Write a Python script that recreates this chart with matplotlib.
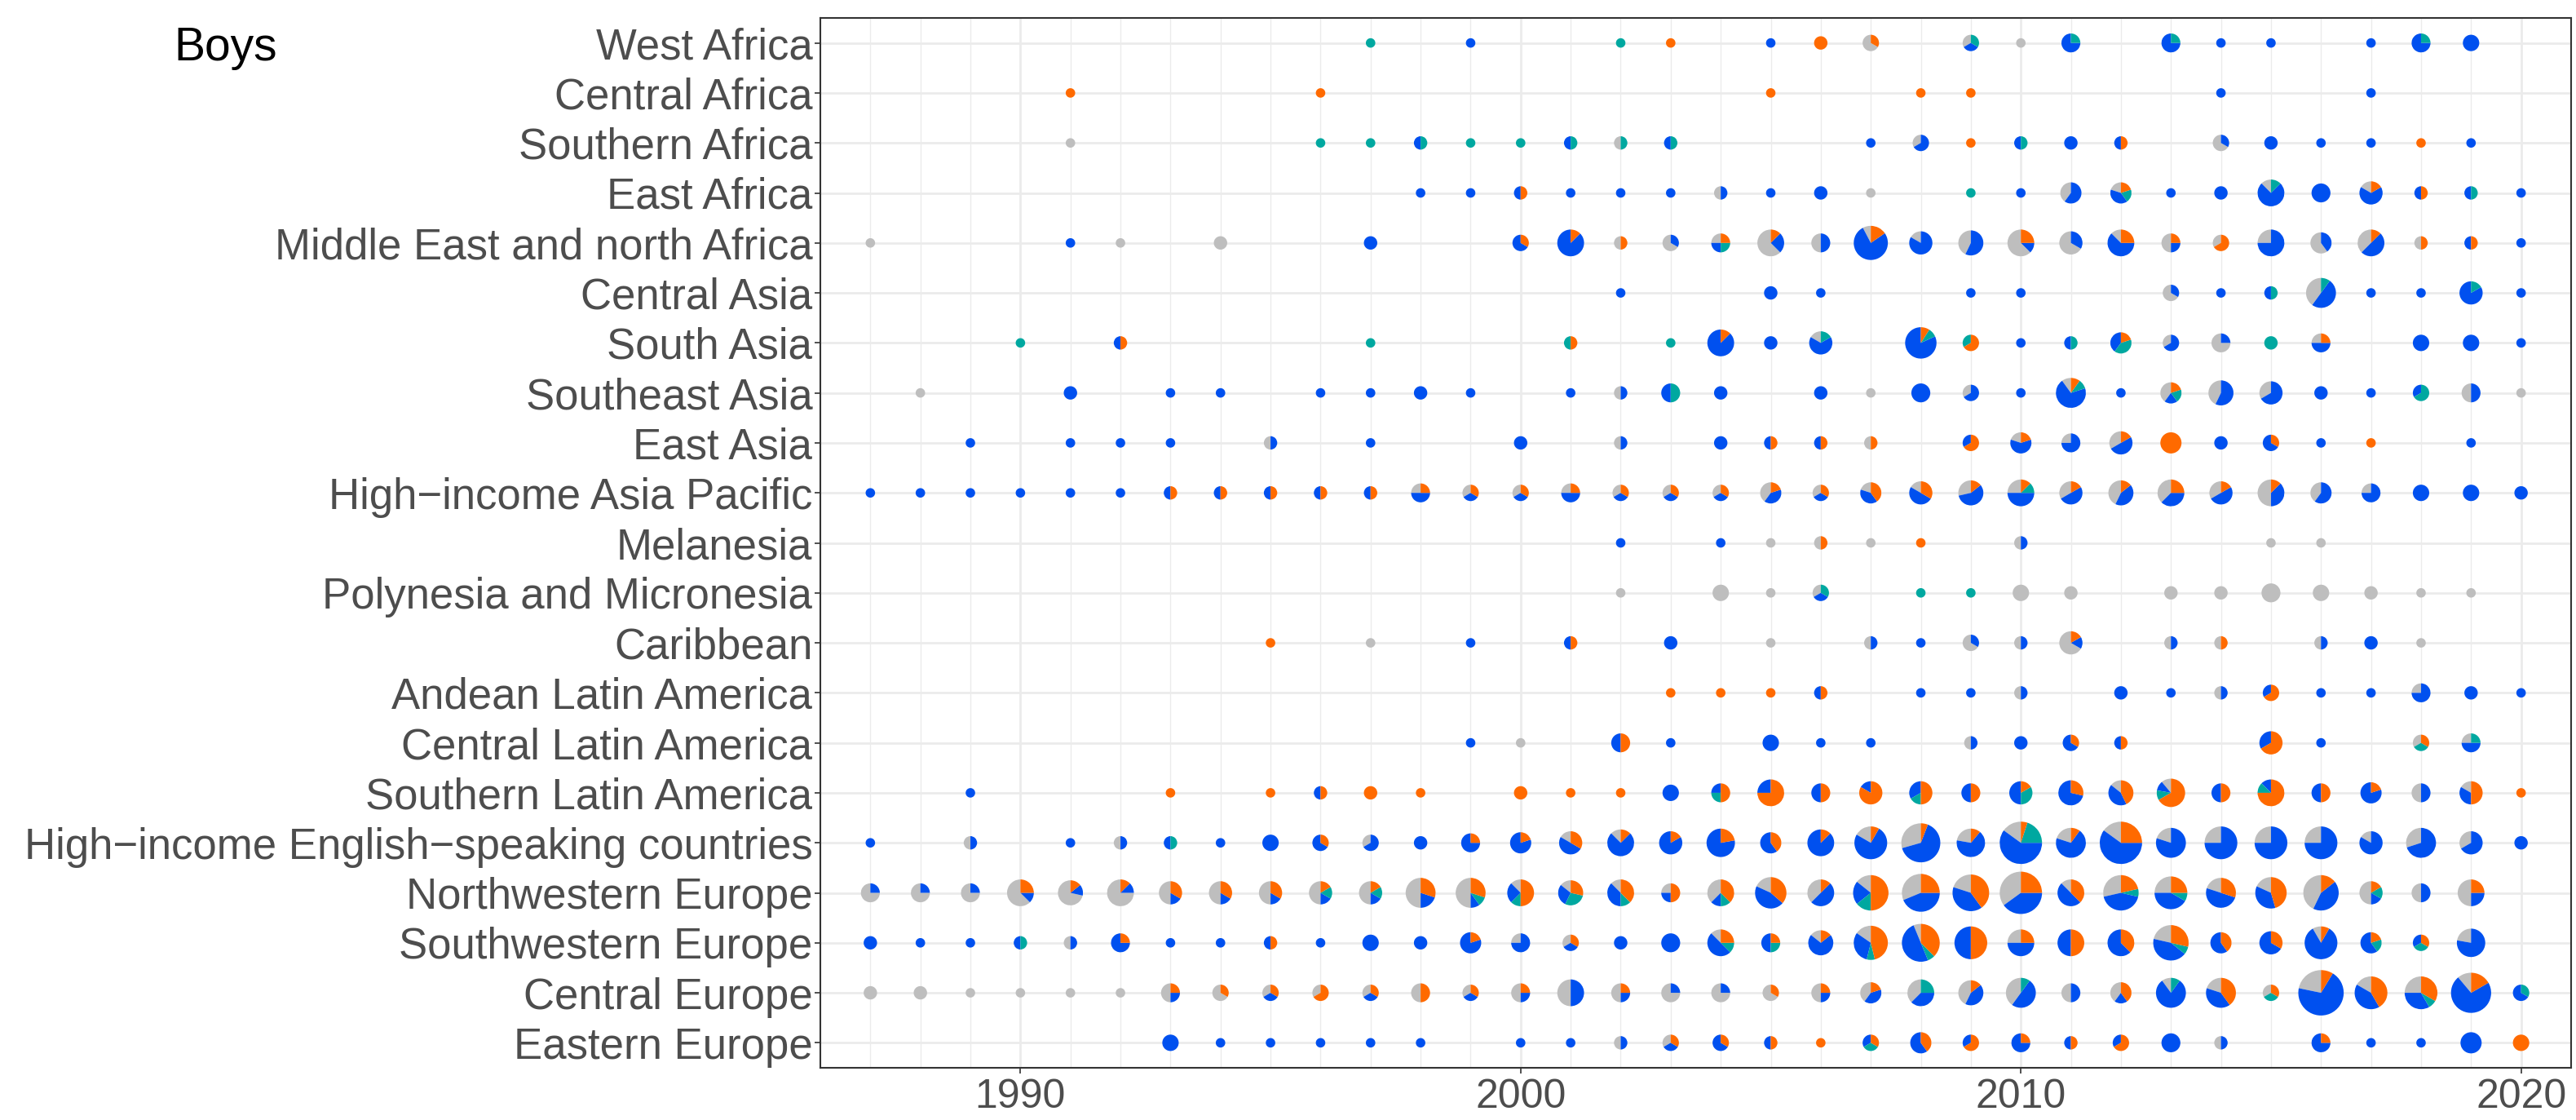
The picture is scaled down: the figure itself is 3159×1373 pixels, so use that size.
import numpy as np
import matplotlib.pyplot as plt
from matplotlib.patches import Wedge
from matplotlib.transforms import ScaledTranslation

plt.rcParams['font.family'] = ['Liberation Sans', 'DejaVu Sans']

# region names, top to bottom
regions = [
    "West Africa", "Central Africa", "Southern Africa", "East Africa",
    "Middle East and north Africa", "Central Asia", "South Asia",
    "Southeast Asia", "East Asia", "High\u2212income Asia Pacific", "Melanesia",
    "Polynesia and Micronesia", "Caribbean", "Andean Latin America",
    "Central Latin America", "Southern Latin America",
    "High\u2212income English\u2212speaking countries", "Northwestern Europe",
    "Southwestern Europe", "Central Europe", "Eastern Europe",
]

# each record: (year, blue, orange, teal, gray) counts
west_africa = [(1997, 0, 0, 1, 0), (1999, 1, 0, 0, 0), (2002, 0, 0, 1, 0), (2003, 0, 1, 0, 0),
               (2005, 1, 0, 0, 0), (2006, 0, 2, 0, 0), (2007, 0, 1, 0, 2), (2009, 1, 0, 1, 1),
               (2010, 0, 0, 0, 1), (2011, 3, 0, 1, 0), (2013, 3, 0, 1, 0), (2014, 1, 0, 0, 0),
               (2015, 1, 0, 0, 0), (2017, 1, 0, 0, 0), (2018, 3, 0, 1, 0), (2019, 3, 0, 0, 0)]
central_africa = [(1991, 0, 1, 0, 0), (1996, 0, 1, 0, 0), (2005, 0, 1, 0, 0), (2008, 0, 1, 0, 0),
                  (2009, 0, 1, 0, 0), (2014, 1, 0, 0, 0), (2017, 1, 0, 0, 0)]
southern_africa = [(1991, 0, 0, 0, 1), (1996, 0, 0, 1, 0), (1997, 0, 0, 1, 0), (1998, 1, 0, 1, 0),
                   (1999, 0, 0, 1, 0), (2000, 0, 0, 1, 0), (2001, 1, 0, 1, 0), (2002, 0, 0, 1, 1),
                   (2003, 1, 0, 1, 0), (2007, 1, 0, 0, 0), (2008, 2, 0, 0, 1), (2009, 0, 1, 0, 0),
                   (2010, 1, 0, 1, 0), (2011, 2, 0, 0, 0), (2012, 1, 1, 0, 0), (2014, 1, 0, 0, 2),
                   (2015, 2, 0, 0, 0), (2016, 1, 0, 0, 0), (2017, 1, 0, 0, 0), (2018, 0, 1, 0, 0),
                   (2019, 1, 0, 0, 0)]
east_africa = [(1998, 1, 0, 0, 0), (1999, 1, 0, 0, 0), (2000, 1, 1, 0, 0), (2001, 1, 0, 0, 0),
               (2002, 1, 0, 0, 0), (2003, 1, 0, 0, 0), (2004, 1, 0, 0, 1), (2005, 1, 0, 0, 0),
               (2006, 2, 0, 0, 0), (2007, 0, 0, 0, 1), (2009, 0, 0, 1, 0), (2010, 1, 0, 0, 0),
               (2011, 3, 0, 0, 2), (2012, 2, 1, 1, 1), (2013, 1, 0, 0, 0), (2014, 2, 0, 0, 0),
               (2015, 6, 0, 1, 1), (2016, 4, 0, 0, 0), (2017, 4, 1, 0, 1), (2018, 1, 1, 0, 0),
               (2019, 1, 0, 1, 0), (2020, 1, 0, 0, 0)]
mena = [(1987, 0, 0, 0, 1), (1991, 1, 0, 0, 0), (1992, 0, 0, 0, 1), (1994, 0, 0, 0, 2),
        (1997, 2, 0, 0, 0), (2000, 2, 1, 0, 0), (2001, 7, 1, 0, 0), (2002, 0, 1, 0, 1),
        (2003, 1, 0, 0, 2), (2004, 1, 1, 1, 1), (2005, 2, 1, 0, 5), (2006, 2, 0, 0, 2),
        (2007, 10, 2, 0, 1), (2008, 5, 0, 0, 1), (2009, 4, 0, 0, 3), (2010, 1, 2, 0, 5),
        (2011, 2, 0, 0, 4), (2012, 5, 2, 0, 1), (2013, 1, 1, 0, 2), (2014, 0, 2, 0, 1),
        (2015, 6, 0, 0, 2), (2016, 2, 0, 0, 3), (2017, 4, 1, 0, 3), (2018, 0, 1, 0, 1),
        (2019, 1, 1, 0, 0), (2020, 1, 0, 0, 0)]
central_asia = [(2002, 1, 0, 0, 0), (2005, 2, 0, 0, 0), (2006, 1, 0, 0, 0), (2009, 1, 0, 0, 0),
                (2010, 1, 0, 0, 0), (2013, 1, 0, 0, 2), (2014, 1, 0, 0, 0), (2015, 1, 0, 1, 0),
                (2016, 5, 0, 1, 4), (2017, 1, 0, 0, 0), (2018, 1, 0, 0, 0), (2019, 5, 0, 1, 0),
                (2020, 1, 0, 0, 0)]
south_asia = [(1990, 0, 0, 1, 0), (1992, 1, 1, 0, 0), (1997, 0, 0, 1, 0), (2001, 0, 1, 1, 0),
              (2003, 0, 0, 1, 0), (2004, 7, 1, 0, 0), (2005, 2, 0, 0, 0), (2006, 4, 0, 1, 1),
              (2008, 9, 1, 1, 0), (2009, 0, 2, 1, 0), (2010, 1, 0, 0, 0), (2011, 1, 0, 1, 0),
              (2012, 2, 1, 2, 0), (2013, 2, 0, 0, 1), (2014, 1, 0, 0, 3), (2015, 0, 0, 2, 0),
              (2016, 2, 1, 0, 1), (2018, 3, 0, 0, 0), (2019, 3, 0, 0, 0), (2020, 1, 0, 0, 0)]
southeast_asia = [(1988, 0, 0, 0, 1), (1991, 2, 0, 0, 0), (1993, 1, 0, 0, 0), (1994, 1, 0, 0, 0),
                  (1996, 1, 0, 0, 0), (1997, 1, 0, 0, 0), (1998, 2, 0, 0, 0), (1999, 1, 0, 0, 0),
                  (2001, 1, 0, 0, 0), (2002, 1, 0, 0, 1), (2003, 2, 0, 2, 0), (2004, 2, 0, 0, 0),
                  (2006, 2, 0, 0, 0), (2007, 0, 0, 0, 1), (2008, 4, 0, 0, 0), (2009, 2, 0, 0, 1),
                  (2010, 1, 0, 0, 0), (2011, 7, 1, 1, 1), (2012, 1, 0, 0, 0), (2013, 1, 1, 1, 2),
                  (2014, 4, 0, 0, 3), (2015, 4, 0, 0, 2), (2016, 2, 0, 0, 0), (2017, 1, 0, 0, 0),
                  (2018, 1, 0, 2, 0), (2019, 2, 0, 0, 2), (2020, 0, 0, 0, 1)]
east_asia = [(1989, 1, 0, 0, 0), (1991, 1, 0, 0, 0), (1992, 1, 0, 0, 0), (1993, 1, 0, 0, 0),
             (1995, 1, 0, 0, 1), (1997, 1, 0, 0, 0), (2000, 2, 0, 0, 0), (2002, 1, 0, 0, 1),
             (2004, 2, 0, 0, 0), (2005, 1, 1, 0, 0), (2006, 1, 1, 0, 0), (2007, 0, 1, 0, 1),
             (2009, 1, 2, 0, 0), (2010, 3, 1, 0, 1), (2011, 3, 0, 0, 1), (2012, 3, 1, 0, 2),
             (2013, 0, 5, 0, 0), (2014, 2, 0, 0, 0), (2015, 2, 1, 0, 0), (2016, 1, 0, 0, 0),
             (2017, 0, 1, 0, 0), (2019, 1, 0, 0, 0)]
hi_asia_pacific = [(1987, 1, 0, 0, 0), (1988, 1, 0, 0, 0), (1989, 1, 0, 0, 0), (1990, 1, 0, 0, 0),
                   (1991, 1, 0, 0, 0), (1992, 1, 0, 0, 0), (1993, 1, 1, 0, 0), (1994, 1, 1, 0, 0),
                   (1995, 1, 1, 0, 0), (1996, 1, 1, 0, 0), (1997, 1, 1, 0, 0), (1998, 2, 1, 0, 1),
                   (1999, 1, 1, 0, 1), (2000, 1, 1, 0, 1), (2001, 2, 1, 0, 1), (2002, 1, 1, 0, 1),
                   (2003, 1, 1, 0, 1), (2004, 1, 1, 0, 1), (2005, 2, 1, 0, 2), (2006, 1, 1, 0, 1),
                   (2007, 2, 2, 0, 1), (2008, 3, 2, 0, 1), (2009, 4, 1, 0, 2), (2010, 4, 1, 1, 2),
                   (2011, 3, 1, 0, 2), (2012, 3, 1, 0, 3), (2013, 3, 2, 0, 3), (2014, 3, 1, 0, 2),
                   (2015, 3, 1, 0, 4), (2016, 3, 0, 0, 2), (2017, 3, 0, 0, 1), (2018, 3, 0, 0, 0),
                   (2019, 3, 0, 0, 0), (2020, 2, 0, 0, 0)]
melanesia = [(2002, 1, 0, 0, 0), (2004, 1, 0, 0, 0), (2005, 0, 0, 0, 1), (2006, 0, 1, 0, 1),
             (2007, 0, 0, 0, 1), (2008, 0, 1, 0, 0), (2010, 1, 0, 0, 1), (2015, 0, 0, 0, 1),
             (2016, 0, 0, 0, 1)]
polynesia = [(2002, 0, 0, 0, 1), (2004, 0, 0, 0, 3), (2005, 0, 0, 0, 1), (2006, 1, 0, 1, 1),
             (2008, 0, 0, 1, 0), (2009, 0, 0, 1, 0), (2010, 0, 0, 0, 3), (2011, 0, 0, 0, 2),
             (2013, 0, 0, 0, 2), (2014, 0, 0, 0, 2), (2015, 0, 0, 0, 4), (2016, 0, 0, 0, 3),
             (2017, 0, 0, 0, 2), (2018, 0, 0, 0, 1), (2019, 0, 0, 0, 1)]
caribbean = [(1995, 0, 1, 0, 0), (1997, 0, 0, 0, 1), (1999, 1, 0, 0, 0), (2001, 1, 1, 0, 0),
             (2003, 2, 0, 0, 0), (2005, 0, 0, 0, 1), (2007, 1, 0, 0, 1), (2008, 1, 0, 0, 0),
             (2009, 1, 0, 0, 2), (2010, 1, 0, 0, 1), (2011, 1, 1, 0, 4), (2013, 1, 0, 0, 1),
             (2014, 0, 1, 0, 1), (2016, 1, 0, 0, 1), (2017, 2, 0, 0, 0), (2018, 0, 0, 0, 1)]
andean_la = [(2003, 0, 1, 0, 0), (2004, 0, 1, 0, 0), (2005, 0, 1, 0, 0), (2006, 1, 1, 0, 0),
             (2008, 1, 0, 0, 0), (2009, 1, 0, 0, 0), (2010, 1, 0, 0, 1), (2012, 2, 0, 0, 0),
             (2013, 1, 0, 0, 0), (2014, 1, 0, 0, 1), (2015, 1, 2, 0, 0), (2016, 1, 0, 0, 0),
             (2017, 1, 0, 0, 0), (2018, 3, 0, 0, 1), (2019, 2, 0, 0, 0), (2020, 1, 0, 0, 0)]
central_la = [(1999, 1, 0, 0, 0), (2000, 0, 0, 0, 1), (2002, 2, 2, 0, 0), (2003, 1, 0, 0, 0),
              (2005, 3, 0, 0, 0), (2006, 1, 0, 0, 0), (2007, 1, 0, 0, 0), (2009, 1, 0, 0, 1),
              (2010, 2, 0, 0, 0), (2011, 2, 1, 0, 0), (2012, 1, 1, 0, 0), (2015, 2, 4, 0, 0),
              (2016, 1, 0, 0, 0), (2018, 0, 1, 1, 1), (2019, 2, 0, 1, 1)]
southern_la = [(1989, 1, 0, 0, 0), (1993, 0, 1, 0, 0), (1995, 0, 1, 0, 0), (1996, 1, 1, 0, 0),
               (1997, 0, 2, 0, 0), (1998, 0, 1, 0, 0), (2000, 0, 2, 0, 0), (2001, 0, 1, 0, 0),
               (2002, 0, 1, 0, 0), (2003, 3, 0, 0, 0), (2004, 1, 2, 1, 0), (2005, 2, 6, 0, 0),
               (2006, 2, 2, 0, 0), (2007, 1, 5, 0, 0), (2008, 2, 3, 1, 0), (2009, 2, 2, 0, 0),
               (2010, 3, 1, 2, 0), (2011, 5, 2, 0, 0), (2012, 3, 3, 0, 1), (2013, 1, 6, 1, 1),
               (2014, 2, 2, 0, 0), (2015, 1, 6, 1, 0), (2016, 2, 2, 0, 0), (2017, 4, 1, 0, 0),
               (2018, 2, 0, 0, 2), (2019, 2, 3, 0, 1), (2020, 0, 1, 0, 0)]
hi_english = [(1987, 1, 0, 0, 0), (1989, 1, 0, 0, 1), (1991, 1, 0, 0, 0), (1992, 1, 0, 0, 1),
              (1993, 1, 0, 1, 0), (1994, 1, 0, 0, 0), (1995, 3, 0, 0, 0), (1996, 2, 1, 0, 0),
              (1997, 2, 0, 0, 1), (1998, 2, 0, 0, 0), (1999, 3, 1, 0, 0), (2000, 4, 1, 0, 0),
              (2001, 3, 2, 0, 1), (2002, 6, 1, 0, 1), (2003, 5, 1, 0, 0), (2004, 7, 2, 0, 0),
              (2005, 3, 2, 0, 0), (2006, 7, 1, 0, 0), (2007, 9, 1, 0, 2), (2008, 11, 1, 0, 5),
              (2009, 6, 1, 0, 2), (2010, 12, 1, 4, 3), (2011, 7, 1, 0, 2), (2012, 12, 5, 0, 3),
              (2013, 8, 0, 0, 2), (2014, 9, 0, 0, 3), (2015, 9, 0, 0, 3), (2016, 9, 0, 0, 3),
              (2017, 5, 0, 0, 1), (2018, 7, 0, 0, 3), (2019, 4, 0, 0, 2), (2020, 2, 0, 0, 0)]
nw_europe = [(1987, 1, 0, 0, 3), (1988, 1, 0, 0, 3), (1989, 1, 0, 0, 3), (1990, 1, 2, 0, 5),
             (1991, 1, 1, 0, 5), (1992, 1, 1, 0, 6), (1993, 1, 2, 0, 3), (1994, 1, 2, 0, 3),
             (1995, 1, 2, 0, 3), (1996, 1, 1, 1, 3), (1997, 1, 1, 1, 3), (1998, 2, 3, 0, 5),
             (1999, 1, 3, 1, 5), (2000, 2, 4, 1, 1), (2001, 2, 2, 2, 1), (2002, 3, 3, 1, 1),
             (2003, 1, 2, 0, 1), (2004, 1, 3, 1, 3), (2005, 5, 4, 0, 2), (2006, 4, 1, 0, 3),
             (2007, 3, 7, 2, 2), (2008, 7, 4, 0, 5), (2009, 6, 6, 0, 3), (2010, 8, 5, 0, 7),
             (2011, 4, 3, 0, 1), (2012, 6, 3, 1, 4), (2013, 5, 3, 1, 3), (2014, 5, 3, 0, 2),
             (2015, 4, 5, 0, 2), (2016, 6, 2, 0, 6), (2017, 1, 1, 1, 3), (2018, 2, 0, 0, 2),
             (2019, 2, 2, 0, 4)]
sw_europe = [(1987, 2, 0, 0, 0), (1988, 1, 0, 0, 0), (1989, 1, 0, 0, 0), (1990, 1, 0, 1, 0),
             (1991, 1, 0, 0, 1), (1992, 3, 1, 0, 0), (1993, 1, 0, 0, 0), (1994, 1, 0, 0, 0),
             (1995, 1, 1, 0, 0), (1996, 1, 0, 0, 0), (1997, 3, 0, 0, 0), (1998, 2, 0, 0, 0),
             (1999, 4, 1, 0, 0), (2000, 3, 0, 0, 1), (2001, 1, 1, 0, 1), (2002, 2, 0, 0, 0),
             (2003, 4, 0, 0, 0), (2004, 4, 2, 1, 1), (2005, 2, 1, 1, 0), (2006, 5, 1, 0, 1),
             (2007, 4, 6, 1, 2), (2008, 8, 6, 1, 1), (2009, 6, 6, 0, 0), (2010, 4, 2, 0, 2),
             (2011, 4, 4, 0, 0), (2012, 5, 3, 0, 0), (2013, 6, 4, 1, 3), (2014, 3, 2, 0, 0),
             (2015, 4, 2, 0, 0), (2016, 10, 1, 0, 1), (2017, 3, 1, 1, 0), (2018, 1, 1, 1, 0),
             (2019, 7, 0, 0, 2)]
central_europe = [(1987, 0, 0, 0, 2), (1988, 0, 0, 0, 2), (1989, 0, 0, 0, 1), (1990, 0, 0, 0, 1),
                  (1991, 0, 0, 0, 1), (1992, 0, 0, 0, 1), (1993, 1, 1, 0, 2), (1994, 0, 1, 0, 2),
                  (1995, 1, 1, 0, 1), (1996, 0, 2, 0, 1), (1997, 1, 1, 0, 1), (1998, 0, 2, 0, 2),
                  (1999, 1, 1, 0, 1), (2000, 1, 1, 0, 2), (2001, 4, 0, 0, 4), (2002, 1, 1, 0, 2),
                  (2003, 1, 0, 0, 3), (2004, 1, 0, 0, 3), (2005, 0, 1, 0, 2), (2006, 1, 1, 0, 2),
                  (2007, 2, 1, 0, 2), (2008, 3, 0, 2, 3), (2009, 3, 1, 0, 3), (2010, 5, 0, 1, 4),
                  (2011, 2, 0, 0, 2), (2012, 1, 2, 0, 2), (2013, 8, 0, 1, 1), (2014, 4, 4, 0, 2),
                  (2015, 0, 1, 1, 1), (2016, 16, 2, 0, 5), (2017, 5, 5, 0, 2), (2018, 4, 4, 1, 3),
                  (2019, 13, 3, 0, 2), (2020, 2, 0, 1, 0)]
eastern_europe = [(1993, 3, 0, 0, 0), (1994, 1, 0, 0, 0), (1995, 1, 0, 0, 0), (1996, 1, 0, 0, 0),
                  (1997, 1, 0, 0, 0), (1998, 1, 0, 0, 0), (2000, 1, 0, 0, 0), (2001, 1, 0, 0, 0),
                  (2002, 1, 0, 0, 1), (2003, 1, 1, 0, 1), (2004, 2, 1, 0, 0), (2005, 1, 1, 0, 0),
                  (2006, 0, 1, 0, 0), (2007, 1, 1, 1, 0), (2008, 3, 2, 0, 0), (2009, 1, 2, 0, 0),
                  (2010, 3, 1, 0, 0), (2011, 1, 1, 0, 0), (2012, 1, 2, 0, 0), (2013, 4, 0, 0, 0),
                  (2014, 1, 0, 0, 1), (2016, 3, 1, 0, 0), (2017, 1, 0, 0, 0), (2018, 1, 0, 0, 0),
                  (2019, 5, 0, 0, 0), (2020, 0, 3, 0, 0)]

region_data = [west_africa, central_africa, southern_africa, east_africa, mena,
               central_asia, south_asia, southeast_asia, east_asia, hi_asia_pacific,
               melanesia, polynesia, caribbean, andean_la, central_la, southern_la,
               hi_english, nw_europe, sw_europe, central_europe, eastern_europe]

col_blue = "#0050EF"
col_orange = "#FF6A00"
col_teal = "#00A8A0"
col_gray = "#BEBEBE"

W, H = 3159, 1373
fig = plt.figure(figsize=(W / 100, H / 100), dpi=100)
ax = fig.add_axes([1006 / W, 64 / H, 2147 / W, 1287 / H])

n_reg = len(regions)
r_one = 0.058  # radius of a single-study pie, inches

for i, recs in enumerate(region_data):
    yv = n_reg - i
    for year, b, o, t, g in recs:
        # slices go counter-clockwise from 12 o'clock: gray, blue, teal, orange
        counts = [g, b, t, o]
        cols = [col_gray, col_blue, col_teal, col_orange]
        n = sum(counts)
        r = r_one * np.sqrt(n)
        place = fig.dpi_scale_trans + ScaledTranslation(year, yv, ax.transData)
        start = 90.0
        for c, col in zip(counts, cols):
            if c == 0:
                continue
            sweep = 360.0 * c / n
            ax.add_patch(Wedge((0, 0), r, start, start + sweep, facecolor=col,
                               edgecolor='none', linewidth=0, transform=place, zorder=3))
            start += sweep

ax.set_xlim(1986, 2021)
ax.set_ylim(0.5, n_reg + 0.5)

ax.set_xticks([1990, 2000, 2010, 2020])
ax.set_xticks([yr for yr in range(1987, 2021) if yr % 10 != 0], minor=True)
ax.set_yticks(range(n_reg, 0, -1))
ax.set_yticklabels(regions)

ax.set_axisbelow(True)
ax.grid(which='major', color='#EBEBEB', linewidth=1.95)
ax.grid(which='minor', axis='x', color='#EBEBEB', linewidth=1.0)
ax.tick_params(which='major', direction='out', length=5, width=1.2, color='#333333',
               labelcolor='#4D4D4D', pad=2)
ax.tick_params(axis='y', which='major', labelsize=38)
ax.tick_params(axis='x', which='major', labelsize=36, pad=4)
ax.tick_params(which='minor', length=0)
for sp in ax.spines.values():
    sp.set_color('#333333')
    sp.set_linewidth(1.5)

fig.text(213 / W, 1 - 74 / H, "Boys", fontsize=41, color='black', ha='left', va='baseline')

fig.savefig("out.png", dpi=100, facecolor='white')
